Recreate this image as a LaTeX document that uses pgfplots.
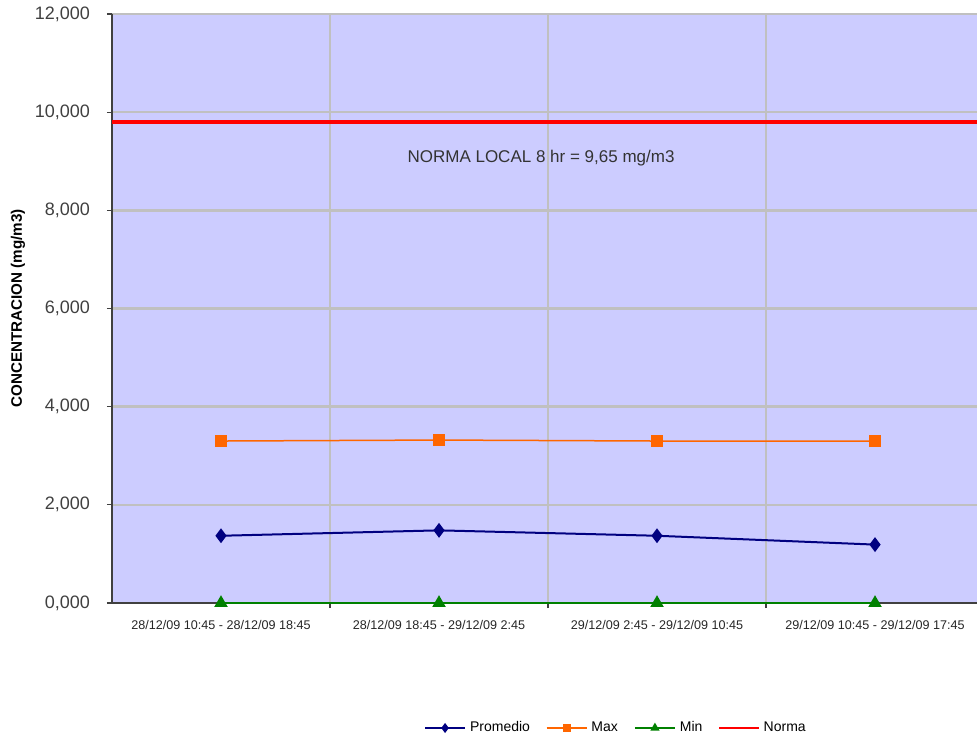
\documentclass[border=0pt]{standalone}
\usepackage{pgfplots}
\pgfplotsset{compat=1.18}
\usepackage{fontspec}
\setmainfont{Liberation Sans}
\definecolor{plotbg}{HTML}{CCCCFF}
\definecolor{gridgray}{HTML}{C0C0C0}
\definecolor{navy}{HTML}{000080}
\definecolor{orangeMax}{HTML}{FF6600}
\definecolor{greenMin}{HTML}{008000}
\definecolor{axisdark}{HTML}{404040}
\begin{document}
\begin{tikzpicture}
\begin{axis}[
  scale only axis,
  width=436pt, height=294.5pt,
  at={(0,0)}, anchor=south west,
  xmin=-0.5, xmax=3.5,
  ymin=0, ymax=12,
  axis background/.style={fill=plotbg},
  axis x line*=bottom, axis y line*=left,
  axis line style={draw=axisdark, line width=1pt},
  tick align=outside,
  major tick length=2.5pt,
  tick style={axisdark, line width=0.6pt},
  xtick={0.5,1.5,2.5},
  xticklabels={},
  extra x ticks={0,1,2,3},
  extra x tick labels={28/12/09 10:45 - 28/12/09 18:45, 28/12/09 18:45 - 29/12/09 2:45, 29/12/09 2:45 - 29/12/09 10:45, 29/12/09 10:45 - 29/12/09 17:45},
  extra x tick style={grid=none, major tick length=0pt,
    tick label style={font=\fontsize{6.3}{7}\selectfont, yshift=-5pt, text=black!85}},
  ytick={0,2,4,6,8,10,12},
  yticklabel style={font=\fontsize{9}{10}\selectfont, text=black!75,
    /pgf/number format/fixed, /pgf/number format/fixed zerofill,
    /pgf/number format/precision=3, /pgf/number format/use comma,
    /pgf/number format/assume math mode=true, xshift=-5pt},
  grid=major,
  major grid style={draw=gridgray, line width=1.2pt},
  ylabel={\textbf{CONCENTRACION (mg/m3)}},
  ylabel style={at={(axis description cs:-0.1078,0.5)}, anchor=center,
    font=\fontsize{7.6}{9}\selectfont},
  legend style={draw=none, fill=none, at={(rel axis cs:0.579,-0.2122)}, anchor=center,
    legend columns=4, font=\fontsize{7}{8}\selectfont,
    /tikz/every even column/.append style={column sep=6pt}},
  legend image code/.code={\draw[mark repeat=2,mark phase=2,mark size=1.7pt]
    plot coordinates {(0pt,0pt)(10pt,0pt)(20pt,0pt)};},
  clip=false,
]
\addplot[navy, line width=1pt, mark=diamond*, mark size=2.9pt,
  mark options={solid, fill=navy}] coordinates {
  (0,1.37) (1,1.48) (2,1.37) (3,1.19)
};
\addlegendentry{Promedio}
\addplot[orangeMax, line width=0.75pt, mark=square*, mark size=2.7pt,
  mark options={fill=orangeMax}] coordinates {
  (0,3.30) (1,3.32) (2,3.30) (3,3.30)
};
\addlegendentry{Max}
\addplot[greenMin, line width=1pt, mark=triangle*, mark size=2.9pt,
  mark options={fill=greenMin}] coordinates {
  (0,0) (1,0) (2,0) (3,0)
};
\addlegendentry{Min}
\addplot[red, line width=1.8pt, no marks,
  legend image post style={line width=0.6pt}] coordinates {
  (-0.5,9.80) (3.5,9.80)
};
\addlegendentry{Norma}
\node[font=\fontsize{8.5}{10}\selectfont, text=black!80] at (axis cs:1.468,9.06)
  {NORMA LOCAL 8 hr = 9,65 mg/m3};
\end{axis}
\pgfresetboundingbox
\useasboundingbox (-56pt,-68.5pt) rectangle (432.5pt,301.5pt);
\end{tikzpicture}
\end{document}
